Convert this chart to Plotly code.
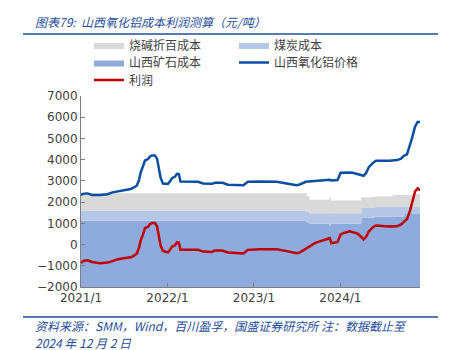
import plotly.graph_objects as go

# ---- data -------------------------------------------------------------
dates = [
    "2021-01-01", "2021-01-14", "2021-01-29", "2021-02-16", "2021-03-22", "2021-04-23",
    "2021-05-14", "2021-06-02", "2021-06-23", "2021-07-14", "2021-07-30", "2021-08-13",
    "2021-08-25", "2021-09-03", "2021-09-10", "2021-09-20", "2021-09-28", "2021-10-11",
    "2021-10-19", "2021-10-28", "2021-11-09", "2021-11-18", "2021-11-26", "2021-12-03",
    "2021-12-13", "2022-01-03", "2022-01-12", "2022-01-20", "2022-02-02", "2022-02-10",
    "2022-02-18", "2022-02-25", "2022-05-10", "2022-05-31", "2022-07-08", "2022-07-20",
    "2022-08-22", "2022-09-13", "2022-11-18", "2022-12-06", "2023-01-26", "2023-04-07",
    "2023-05-19", "2023-06-30", "2023-07-13", "2023-08-08", "2023-09-01", "2023-09-15",
    "2023-10-06", "2023-10-27", "2023-11-17", "2023-11-24", "2023-12-12", "2023-12-20",
    "2024-01-02", "2024-01-19", "2024-02-09", "2024-02-22", "2024-03-14", "2024-03-27",
    "2024-04-08", "2024-04-19", "2024-04-30", "2024-05-17", "2024-05-30", "2024-07-26",
    "2024-08-27", "2024-09-13", "2024-09-25", "2024-10-08", "2024-10-21", "2024-10-29",
    "2024-11-11", "2024-11-22", "2024-12-02",
]

# 山西氧化铝价格 (元/吨)
price = [
    2340, 2400, 2410, 2340, 2340, 2370, 2460, 2500, 2540, 2560, 2620, 2690,
    2780, 3050, 3400, 3700, 3960, 4030, 4150, 4200, 4200, 4050, 3600, 3150,
    2870, 2860, 2980, 3130, 3200, 3330, 3320, 2970, 2960, 2880, 2860, 2910,
    2910, 2820, 2800, 2960, 2970, 2960, 2880, 2800, 2830, 2960, 2980, 2990,
    3010, 3040, 3050, 3020, 3030, 3040, 3380, 3400, 3400, 3380, 3330, 3280,
    3240, 3380, 3650, 3850, 3950, 3950, 3980, 4050, 4180, 4250, 4700, 5000,
    5550, 5780, 5780,
]

# 利润 (元/吨)
profit = [
    -850, -760, -740, -820, -880, -850, -780, -700, -660, -640, -600, -520,
    -420, -150, 200, 480, 770, 840, 960, 1010, 1010, 860, 400, -50,
    -300, -370, -250, -100, -30, 100, 90, -250, -250, -330, -350, -280,
    -280, -380, -420, -250, -220, -220, -310, -410, -380, -190, 0, 70,
    150, 230, 300, 60, 100, 120, 480, 560, 620, 580, 520, 380,
    240, 380, 620, 820, 900, 850, 860, 950, 1050, 1200, 1600, 1950,
    2500, 2650, 2550,
]

# cost components, each value holds from its date until the next one
cost_dates = [
    "2021-01-01", "2023-08-11", "2023-08-22", "2023-11-15", "2023-11-22", "2024-03-29",
    "2024-05-24", "2024-08-09", "2024-09-27", "2024-11-08", "2024-12-02",
]
ore_cost = [1120, 1050, 990, 900, 990, 1260, 1320, 1320, 1440, 1440, 1440]      # 山西矿石成本
coal_cost = [490, 480, 490, 600, 490, 460, 450, 450, 330, 330, 330]            # 煤炭成本
caustic_cost = [810, 760, 630, 690, 600, 510, 500, 570, 560, 610, 650]         # 烧碱折百成本

tick_dates = ["2021-01-01", "2022-01-01", "2023-01-01", "2024-01-01"]
tick_labels = ["2021/1", "2022/1", "2023/1", "2024/1"]

Y_MIN, Y_MAX = -2000, 7000

# ---- layout helpers ---------------------------------------------------
W, H = 449, 350
ML, MR, MT, MB = 81, 29, 96, 63
PW, PH = W - ML - MR, H - MT - MB


def px_x(x):
    return (x - ML) / PW


def px_y(y):
    return (H - MB - y) / PH


BLUE_TXT = "#1f4e9a"
TXT = "#404040"

# ---- stacked cost areas (filled down to the axis floor) --------------
ore_top = list(ore_cost)
coal_top = [a + b for a, b in zip(ore_cost, coal_cost)]
caustic_top = [a + b + c for a, b, c in zip(ore_cost, coal_cost, caustic_cost)]

fig = go.Figure()
fig.add_trace(go.Scatter(
    x=cost_dates, y=[Y_MIN] * len(cost_dates), mode="lines",
    line=dict(width=0, shape="hv"), showlegend=False, hoverinfo="skip",
))
fig.add_trace(go.Scatter(
    x=cost_dates, y=ore_top, name="山西矿石成本", mode="lines",
    line=dict(width=0, shape="hv"), fill="tonexty", fillcolor="#8faadc",
    legend="legend2", legendrank=1,
))
fig.add_trace(go.Scatter(
    x=cost_dates, y=coal_top, name="煤炭成本", mode="lines",
    line=dict(width=0, shape="hv"), fill="tonexty", fillcolor="#b4c7e7",
    legend="legend", legendrank=2,
))
fig.add_trace(go.Scatter(
    x=cost_dates, y=caustic_top, name="烧碱折百成本", mode="lines",
    line=dict(width=0, shape="hv"), fill="tonexty", fillcolor="#d9d9d9",
    legend="legend", legendrank=1,
))

# ---- price and profit lines ------------------------------------------
fig.add_trace(go.Scatter(
    x=dates, y=price, name="山西氧化铝价格", mode="lines",
    line=dict(color="#0b4ea2", width=2.5), legend="legend2", legendrank=2,
))
fig.add_trace(go.Scatter(
    x=dates, y=profit, name="利润", mode="lines",
    line=dict(color="#c00000", width=2.5), legend="legend3", legendrank=1,
))

axis_font = dict(family="DejaVu Sans", size=12, color=TXT)

fig.update_xaxes(
    type="date", range=["2021-01-01", "2024-12-02"],
    tickvals=tick_dates, ticktext=tick_labels,
    ticks="inside", ticklen=4, tickcolor="#7f7f7f",
    showline=True, linecolor="#7f7f7f", linewidth=1,
    showgrid=False, zeroline=False, tickfont=axis_font,
)
fig.update_yaxes(
    range=[Y_MIN, Y_MAX], dtick=1000, tick0=0,
    ticks="inside", ticklen=4, tickcolor="#7f7f7f",
    showline=True, linecolor="#7f7f7f", linewidth=1,
    showgrid=False, zeroline=False, tickfont=axis_font,
)

# ---- title, source note and rules ------------------------------------
fig.add_annotation(
    text="图表79:  山西氧化铝成本利润测算（元/吨）",
    xref="paper", yref="paper", x=px_x(33), y=px_y(22),
    xanchor="left", yanchor="middle", showarrow=False,
    font=dict(family="Noto Sans CJK SC", size=12, color=BLUE_TXT, style="italic"),
)
fig.add_annotation(
    text="资料来源：SMM，Wind，百川盈孚，国盛证券研究所 注：数据截止至",
    xref="paper", yref="paper", x=px_x(33), y=px_y(325.5),
    xanchor="left", yanchor="middle", showarrow=False,
    font=dict(family="Noto Sans CJK SC", size=12, color=BLUE_TXT, style="italic"),
)
fig.add_annotation(
    text="2024 年 12 月 2 日",
    xref="paper", yref="paper", x=px_x(33), y=px_y(342.5),
    xanchor="left", yanchor="middle", showarrow=False,
    font=dict(family="Noto Sans CJK SC", size=12, color=BLUE_TXT, style="italic"),
)
for yy in (34, 317):
    fig.add_shape(
        type="line", xref="paper", yref="paper",
        x0=px_x(23), x1=px_x(438), y0=px_y(yy), y1=px_y(yy),
        line=dict(color=BLUE_TXT, width=1.5),
    )

# one legend per row so the rows sit close together
legend_style = dict(
    orientation="h", xanchor="left", yanchor="middle",
    entrywidth=100, itemwidth=30, traceorder="normal",
    font=dict(family="Noto Sans CJK SC", size=12, color=TXT),
    bgcolor="rgba(0,0,0,0)",
)

fig.update_layout(
    width=W, height=H,
    margin=dict(l=ML, r=MR, t=MT, b=MB),
    paper_bgcolor="white", plot_bgcolor="white",
    showlegend=True,
    legend=dict(x=px_x(89), y=px_y(45), **legend_style),
    legend2=dict(x=px_x(89), y=px_y(62.5), **legend_style),
    legend3=dict(x=px_x(89), y=px_y(80), **legend_style),
)

fig.write_html("out.html")
